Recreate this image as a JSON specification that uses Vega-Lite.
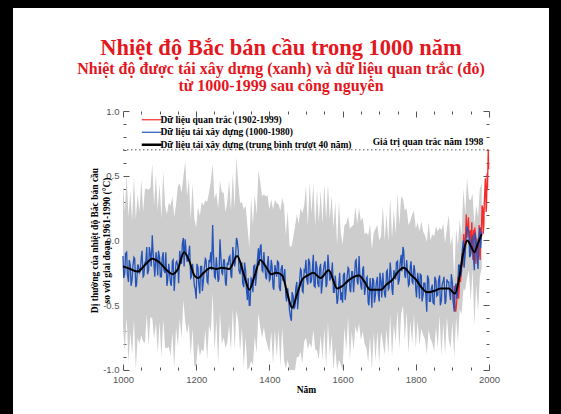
{
"$schema": "https://vega.github.io/schema/vega-lite/v6.json",
"width": 536, "height": 406,
"autosize": {"type": "none"},
"padding": {"left": 13, "right": 12, "top": 8, "bottom": 0},
"background": "black",
"title": {
  "text": "Nhiệt độ Bắc bán cầu trong 1000 năm",
  "subtitle": ["Nhiệt độ được tái xây dựng (xanh) và dữ liệu quan trắc (đỏ)", "từ 1000-1999 sau công nguyên"],
  "anchor": "middle", "frame": "group", "orient": "top",
  "offset": -86,
  "font": "Liberation Serif", "fontSize": 22.5, "fontWeight": "bold", "color": "#e4161e",
  "subtitleFont": "Liberation Serif", "subtitleFontSize": 16, "subtitleFontWeight": "bold", "subtitleColor": "#e4161e",
  "subtitlePadding": 2, "subtitleLineHeight": 17
},
"config": {"view": {"stroke": null, "fill": "white"}},
"datasets": {
"recon": [
{"year":1000,"anomaly":-0.12,"low":-0.67,"high":0.43},
{"year":1005,"anomaly":-0.25,"low":-0.85,"high":0.22},
{"year":1010,"anomaly":-0.09,"low":-0.59,"high":0.51},
{"year":1015,"anomaly":-0.32,"low":-0.94,"high":0.18},
{"year":1020,"anomaly":-0.19,"low":-0.71,"high":0.38},
{"year":1025,"anomaly":-0.30,"low":-0.88,"high":0.15},
{"year":1030,"anomaly":-0.13,"low":-0.61,"high":0.49},
{"year":1035,"anomaly":-0.36,"low":-1.00,"high":0.16},
{"year":1040,"anomaly":-0.19,"low":-0.75,"high":0.36},
{"year":1045,"anomaly":-0.25,"low":-0.80,"high":0.22},
{"year":1050,"anomaly":-0.13,"low":-0.73,"high":0.47},
{"year":1055,"anomaly":-0.28,"low":-0.78,"high":0.22},
{"year":1060,"anomaly":-0.17,"low":-0.79,"high":0.40},
{"year":1065,"anomaly":-0.05,"low":-0.57,"high":0.40},
{"year":1070,"anomaly":-0.23,"low":-0.81,"high":0.39},
{"year":1075,"anomaly":-0.11,"low":-0.59,"high":0.41},
{"year":1080,"anomaly":0.04,"low":-0.60,"high":0.59},
{"year":1085,"anomaly":-0.20,"low":-0.76,"high":0.27},
{"year":1090,"anomaly":-0.09,"low":-0.64,"high":0.51},
{"year":1095,"anomaly":-0.27,"low":-0.87,"high":0.23},
{"year":1100,"anomaly":-0.13,"low":-0.63,"high":0.44},
{"year":1105,"anomaly":-0.28,"low":-0.90,"high":0.17},
{"year":1110,"anomaly":-0.09,"low":-0.61,"high":0.53},
{"year":1115,"anomaly":-0.25,"low":-0.83,"high":0.27},
{"year":1120,"anomaly":-0.35,"low":-0.83,"high":0.20},
{"year":1125,"anomaly":-0.18,"low":-0.82,"high":0.29},
{"year":1130,"anomaly":-0.33,"low":-0.89,"high":0.27},
{"year":1135,"anomaly":-0.16,"low":-0.71,"high":0.34},
{"year":1140,"anomaly":-0.39,"low":-0.99,"high":0.18},
{"year":1145,"anomaly":-0.17,"low":-0.67,"high":0.28},
{"year":1150,"anomaly":-0.20,"low":-0.82,"high":0.42},
{"year":1155,"anomaly":-0.08,"low":-0.60,"high":0.44},
{"year":1160,"anomaly":-0.18,"low":-0.76,"high":0.37},
{"year":1165,"anomaly":0.02,"low":-0.46,"high":0.49},
{"year":1170,"anomaly":0.01,"low":-0.63,"high":0.61},
{"year":1175,"anomaly":-0.16,"low":-0.72,"high":0.34},
{"year":1180,"anomaly":-0.09,"low":-0.64,"high":0.48},
{"year":1185,"anomaly":-0.29,"low":-0.89,"high":0.16},
{"year":1190,"anomaly":-0.18,"low":-0.68,"high":0.44},
{"year":1195,"anomaly":-0.35,"low":-0.97,"high":0.17},
{"year":1200,"anomaly":-0.45,"low":-0.97,"high":0.10},
{"year":1205,"anomaly":-0.21,"low":-0.79,"high":0.26},
{"year":1210,"anomaly":-0.41,"low":-0.89,"high":0.19},
{"year":1215,"anomaly":-0.20,"low":-0.84,"high":0.30},
{"year":1220,"anomaly":-0.30,"low":-0.86,"high":0.27},
{"year":1225,"anomaly":-0.14,"low":-0.69,"high":0.31},
{"year":1230,"anomaly":-0.32,"low":-0.92,"high":0.30},
{"year":1235,"anomaly":-0.15,"low":-0.65,"high":0.37},
{"year":1240,"anomaly":-0.09,"low":-0.71,"high":0.46},
{"year":1245,"anomaly":0.12,"low":-0.40,"high":0.59},
{"year":1250,"anomaly":-0.28,"low":-0.86,"high":0.32},
{"year":1255,"anomaly":-0.13,"low":-0.61,"high":0.37},
{"year":1260,"anomaly":-0.32,"low":-0.96,"high":0.25},
{"year":1265,"anomaly":0.01,"low":-0.55,"high":0.46},
{"year":1270,"anomaly":-0.25,"low":-0.80,"high":0.37},
{"year":1275,"anomaly":-0.15,"low":-0.75,"high":0.37},
{"year":1280,"anomaly":-0.33,"low":-0.83,"high":0.22},
{"year":1285,"anomaly":-0.17,"low":-0.79,"high":0.30},
{"year":1290,"anomaly":-0.13,"low":-0.65,"high":0.47},
{"year":1295,"anomaly":-0.27,"low":-0.85,"high":0.23},
{"year":1300,"anomaly":-0.05,"low":-0.53,"high":0.52},
{"year":1305,"anomaly":-0.20,"low":-0.84,"high":0.25},
{"year":1310,"anomaly":0.02,"low":-0.54,"high":0.64},
{"year":1315,"anomaly":-0.08,"low":-0.63,"high":0.44},
{"year":1320,"anomaly":-0.26,"low":-0.86,"high":0.29},
{"year":1325,"anomaly":-0.17,"low":-0.67,"high":0.30},
{"year":1330,"anomaly":-0.36,"low":-0.98,"high":0.24},
{"year":1335,"anomaly":-0.23,"low":-0.75,"high":0.27},
{"year":1340,"anomaly":-0.46,"low":-1.00,"high":0.11},
{"year":1345,"anomaly":-0.50,"low":-0.98,"high":-0.05},
{"year":1350,"anomaly":-0.29,"low":-0.93,"high":0.33},
{"year":1355,"anomaly":-0.40,"low":-0.96,"high":0.12},
{"year":1360,"anomaly":-0.19,"low":-0.74,"high":0.36},
{"year":1365,"anomaly":-0.27,"low":-0.87,"high":0.20},
{"year":1370,"anomaly":-0.06,"low":-0.56,"high":0.54},
{"year":1375,"anomaly":-0.05,"low":-0.67,"high":0.45},
{"year":1380,"anomaly":-0.23,"low":-0.75,"high":0.34},
{"year":1385,"anomaly":-0.09,"low":-0.67,"high":0.36},
{"year":1390,"anomaly":-0.28,"low":-0.76,"high":0.34},
{"year":1395,"anomaly":-0.17,"low":-0.81,"high":0.35},
{"year":1400,"anomaly":-0.31,"low":-0.87,"high":0.24},
{"year":1405,"anomaly":-0.15,"low":-0.70,"high":0.32},
{"year":1410,"anomaly":-0.36,"low":-0.96,"high":0.24},
{"year":1415,"anomaly":-0.19,"low":-0.69,"high":0.31},
{"year":1420,"anomaly":-0.28,"low":-0.90,"high":0.29},
{"year":1425,"anomaly":-0.17,"low":-0.69,"high":0.28},
{"year":1430,"anomaly":-0.39,"low":-0.97,"high":0.23},
{"year":1435,"anomaly":-0.19,"low":-0.67,"high":0.33},
{"year":1440,"anomaly":-0.28,"low":-0.92,"high":0.27},
{"year":1445,"anomaly":-0.43,"low":-0.99,"high":0.04},
{"year":1450,"anomaly":-0.37,"low":-0.92,"high":0.23},
{"year":1455,"anomaly":-0.54,"low":-1.00,"high":-0.04},
{"year":1460,"anomaly":-0.62,"low":-1.00,"high":-0.05},
{"year":1465,"anomaly":-0.43,"low":-1.00,"high":0.02},
{"year":1470,"anomaly":-0.51,"low":-1.00,"high":0.11},
{"year":1475,"anomaly":-0.32,"low":-0.90,"high":0.20},
{"year":1480,"anomaly":-0.42,"low":-0.90,"high":0.13},
{"year":1485,"anomaly":-0.22,"low":-0.86,"high":0.25},
{"year":1490,"anomaly":-0.39,"low":-0.95,"high":0.21},
{"year":1495,"anomaly":-0.23,"low":-0.78,"high":0.27},
{"year":1500,"anomaly":-0.15,"low":-0.75,"high":0.42},
{"year":1505,"anomaly":-0.34,"low":-0.84,"high":0.11},
{"year":1510,"anomaly":-0.17,"low":-0.79,"high":0.45},
{"year":1515,"anomaly":-0.31,"low":-0.83,"high":0.21},
{"year":1520,"anomaly":-0.11,"low":-0.69,"high":0.44},
{"year":1525,"anomaly":-0.36,"low":-0.84,"high":0.11},
{"year":1530,"anomaly":-0.21,"low":-0.85,"high":0.39},
{"year":1535,"anomaly":-0.36,"low":-0.92,"high":0.14},
{"year":1540,"anomaly":-0.18,"low":-0.73,"high":0.39},
{"year":1545,"anomaly":-0.32,"low":-0.92,"high":0.13},
{"year":1550,"anomaly":-0.18,"low":-0.68,"high":0.44},
{"year":1555,"anomaly":-0.36,"low":-0.98,"high":0.16},
{"year":1560,"anomaly":-0.11,"low":-0.63,"high":0.44},
{"year":1565,"anomaly":-0.31,"low":-0.89,"high":0.16},
{"year":1570,"anomaly":-0.25,"low":-0.73,"high":0.35},
{"year":1575,"anomaly":-0.40,"low":-1.00,"high":0.10},
{"year":1580,"anomaly":-0.27,"low":-0.83,"high":0.30},
{"year":1585,"anomaly":-0.49,"low":-1.00,"high":-0.04},
{"year":1590,"anomaly":-0.32,"low":-0.92,"high":0.30},
{"year":1595,"anomaly":-0.46,"low":-0.96,"high":0.06},
{"year":1600,"anomaly":-0.48,"low":-1.00,"high":-0.03},
{"year":1605,"anomaly":-0.25,"low":-0.67,"high":0.12},
{"year":1610,"anomaly":-0.37,"low":-0.85,"high":0.13},
{"year":1615,"anomaly":-0.21,"low":-0.59,"high":0.19},
{"year":1620,"anomaly":-0.38,"low":-0.92,"high":0.09},
{"year":1625,"anomaly":-0.24,"low":-0.70,"high":0.11},
{"year":1630,"anomaly":-0.40,"low":-0.85,"high":0.12},
{"year":1635,"anomaly":-0.16,"low":-0.66,"high":0.26},
{"year":1640,"anomaly":-0.32,"low":-0.72,"high":0.13},
{"year":1645,"anomaly":-0.12,"low":-0.64,"high":0.25},
{"year":1650,"anomaly":-0.35,"low":-0.77,"high":0.15},
{"year":1655,"anomaly":-0.22,"low":-0.70,"high":0.18},
{"year":1660,"anomaly":-0.42,"low":-0.80,"high":0.05},
{"year":1665,"anomaly":-0.29,"low":-0.83,"high":0.06},
{"year":1670,"anomaly":-0.48,"low":-0.94,"high":0.04},
{"year":1675,"anomaly":-0.29,"low":-0.74,"high":0.13},
{"year":1680,"anomaly":-0.52,"low":-1.00,"high":-0.07},
{"year":1685,"anomaly":-0.31,"low":-0.71,"high":0.06},
{"year":1690,"anomaly":-0.41,"low":-0.93,"high":0.09},
{"year":1695,"anomaly":-0.28,"low":-0.70,"high":0.12},
{"year":1700,"anomaly":-0.47,"low":-0.95,"high":0.00},
{"year":1705,"anomaly":-0.32,"low":-0.70,"high":0.03},
{"year":1710,"anomaly":-0.25,"low":-0.79,"high":0.27},
{"year":1715,"anomaly":-0.42,"low":-0.88,"high":0.00},
{"year":1720,"anomaly":-0.24,"low":-0.69,"high":0.21},
{"year":1725,"anomaly":-0.38,"low":-0.88,"high":-0.01},
{"year":1730,"anomaly":-0.17,"low":-0.57,"high":0.33},
{"year":1735,"anomaly":-0.38,"low":-0.90,"high":0.02},
{"year":1740,"anomaly":-0.23,"low":-0.65,"high":0.24},
{"year":1745,"anomaly":-0.30,"low":-0.78,"high":0.05},
{"year":1750,"anomaly":-0.16,"low":-0.54,"high":0.36},
{"year":1755,"anomaly":-0.30,"low":-0.84,"high":0.12},
{"year":1760,"anomaly":-0.11,"low":-0.57,"high":0.34},
{"year":1765,"anomaly":-0.05,"low":-0.50,"high":0.32},
{"year":1770,"anomaly":-0.27,"low":-0.77,"high":0.23},
{"year":1775,"anomaly":-0.15,"low":-0.55,"high":0.25},
{"year":1780,"anomaly":-0.35,"low":-0.87,"high":0.12},
{"year":1785,"anomaly":-0.20,"low":-0.62,"high":0.15},
{"year":1790,"anomaly":-0.32,"low":-0.80,"high":0.20},
{"year":1795,"anomaly":-0.19,"low":-0.57,"high":0.23},
{"year":1800,"anomaly":-0.38,"low":-0.83,"high":0.09},
{"year":1805,"anomaly":-0.25,"low":-0.62,"high":0.14},
{"year":1810,"anomaly":-0.45,"low":-0.81,"high":0.07},
{"year":1815,"anomaly":-0.27,"low":-0.68,"high":0.15},
{"year":1820,"anomaly":-0.42,"low":-0.73,"high":0.07},
{"year":1825,"anomaly":-0.33,"low":-0.76,"high":0.04},
{"year":1830,"anomaly":-0.55,"low":-0.88,"high":-0.01},
{"year":1835,"anomaly":-0.30,"low":-0.69,"high":0.14},
{"year":1840,"anomaly":-0.47,"low":-0.76,"high":0.00},
{"year":1845,"anomaly":-0.34,"low":-0.79,"high":0.05},
{"year":1850,"anomaly":-0.49,"low":-0.86,"high":0.03},
{"year":1855,"anomaly":-0.31,"low":-0.67,"high":0.11},
{"year":1860,"anomaly":-0.42,"low":-0.83,"high":0.07},
{"year":1865,"anomaly":-0.27,"low":-0.58,"high":0.10},
{"year":1870,"anomaly":-0.46,"low":-0.89,"high":0.08},
{"year":1875,"anomaly":-0.31,"low":-0.64,"high":0.13},
{"year":1880,"anomaly":-0.49,"low":-0.88,"high":-0.02},
{"year":1885,"anomaly":-0.30,"low":-0.59,"high":0.09},
{"year":1890,"anomaly":-0.32,"low":-0.77,"high":0.20},
{"year":1895,"anomaly":-0.46,"low":-0.83,"high":-0.04},
{"year":1900,"anomaly":-0.33,"low":-0.63,"high":0.04},
{"year":1905,"anomaly":-0.55,"low":-0.91,"high":-0.30},
{"year":1910,"anomaly":-0.33,"low":-0.59,"high":0.09},
{"year":1915,"anomaly":-0.36,"low":-0.78,"high":-0.04},
{"year":1920,"anomaly":-0.19,"low":-0.53,"high":0.16},
{"year":1925,"anomaly":-0.24,"low":-0.57,"high":0.03},
{"year":1930,"anomaly":0.00,"low":-0.38,"high":0.40},
{"year":1935,"anomaly":-0.10,"low":-0.38,"high":0.20},
{"year":1940,"anomaly":0.11,"low":-0.29,"high":0.48},
{"year":1945,"anomaly":0.07,"low":-0.23,"high":0.32},
{"year":1950,"anomaly":-0.11,"low":-0.47,"high":0.31},
{"year":1955,"anomaly":0.04,"low":-0.22,"high":0.36},
{"year":1960,"anomaly":-0.23,"low":-0.65,"high":0.12},
{"year":1965,"anomaly":0.00,"low":-0.34,"high":0.27},
{"year":1970,"anomaly":-0.22,"low":-0.55,"high":0.18},
{"year":1975,"anomaly":0.10,"low":-0.28,"high":0.40},
{"year":1980,"anomaly":0.07,"low":-0.21,"high":0.44},
{"year":1002,"anomaly":-0.29},{"year":1007,"anomaly":-0.10},{"year":1012,"anomaly":-0.26},{"year":1017,"anomaly":-0.15},
{"year":1022,"anomaly":-0.35},{"year":1027,"anomaly":-0.20},{"year":1032,"anomaly":-0.14},{"year":1037,"anomaly":-0.34},
{"year":1042,"anomaly":-0.19},{"year":1047,"anomaly":-0.24},{"year":1052,"anomaly":-0.08},{"year":1057,"anomaly":-0.27},
{"year":1062,"anomaly":-0.17},{"year":1067,"anomaly":-0.26},{"year":1072,"anomaly":-0.05},{"year":1077,"anomaly":-0.20},
{"year":1082,"anomaly":-0.08},{"year":1087,"anomaly":-0.28},{"year":1092,"anomaly":-0.13},{"year":1097,"anomaly":-0.08},
{"year":1102,"anomaly":-0.28},{"year":1107,"anomaly":-0.14},{"year":1112,"anomaly":-0.23},{"year":1117,"anomaly":-0.09},
{"year":1122,"anomaly":-0.31},{"year":1127,"anomaly":-0.24},{"year":1132,"anomaly":-0.35},{"year":1137,"anomaly":-0.15},
{"year":1142,"anomaly":-0.29},{"year":1147,"anomaly":-0.16},{"year":1152,"anomaly":-0.33},{"year":1157,"anomaly":-0.13},
{"year":1162,"anomaly":-0.03},{"year":1167,"anomaly":-0.20},{"year":1172,"anomaly":-0.07},{"year":1177,"anomaly":-0.16},
{"year":1182,"anomaly":-0.04},{"year":1187,"anomaly":-0.28},{"year":1192,"anomaly":-0.24},{"year":1197,"anomaly":-0.37},
{"year":1202,"anomaly":-0.18},{"year":1207,"anomaly":-0.34},{"year":1212,"anomaly":-0.20},{"year":1217,"anomaly":-0.39},
{"year":1222,"anomaly":-0.22},{"year":1227,"anomaly":-0.15},{"year":1232,"anomaly":-0.33},{"year":1237,"anomaly":-0.17},
{"year":1242,"anomaly":-0.23},{"year":1247,"anomaly":-0.09},{"year":1252,"anomaly":-0.29},{"year":1257,"anomaly":-0.21},
{"year":1262,"anomaly":-0.30},{"year":1267,"anomaly":-0.10},{"year":1272,"anomaly":-0.26},{"year":1277,"anomaly":-0.15},
{"year":1282,"anomaly":-0.35},{"year":1287,"anomaly":-0.19},{"year":1292,"anomaly":-0.12},{"year":1297,"anomaly":-0.29},
{"year":1302,"anomaly":-0.11},{"year":1307,"anomaly":-0.16},{"year":1312,"anomaly":0.00},{"year":1317,"anomaly":-0.23},
{"year":1322,"anomaly":-0.19},{"year":1327,"anomaly":-0.33},{"year":1332,"anomaly":-0.17},{"year":1337,"anomaly":-0.37},
{"year":1342,"anomaly":-0.29},{"year":1347,"anomaly":-0.50},{"year":1352,"anomaly":-0.30},{"year":1357,"anomaly":-0.20},
{"year":1362,"anomaly":-0.35},{"year":1367,"anomaly":-0.16},{"year":1372,"anomaly":-0.19},{"year":1377,"anomaly":-0.03},
{"year":1382,"anomaly":-0.24},{"year":1387,"anomaly":-0.18},{"year":1392,"anomaly":-0.30},{"year":1397,"anomaly":-0.12},
{"year":1402,"anomaly":-0.30},{"year":1407,"anomaly":-0.19},{"year":1412,"anomaly":-0.38},{"year":1417,"anomaly":-0.22},
{"year":1422,"anomaly":-0.16},{"year":1427,"anomaly":-0.36},{"year":1432,"anomaly":-0.22},{"year":1437,"anomaly":-0.31},
{"year":1442,"anomaly":-0.22},{"year":1447,"anomaly":-0.47},{"year":1452,"anomaly":-0.43},{"year":1457,"anomaly":-0.58},
{"year":1462,"anomaly":-0.40},{"year":1467,"anomaly":-0.53},{"year":1472,"anomaly":-0.37},{"year":1477,"anomaly":-0.53},
{"year":1482,"anomaly":-0.33},{"year":1487,"anomaly":-0.23},{"year":1492,"anomaly":-0.40},{"year":1497,"anomaly":-0.24},
{"year":1502,"anomaly":-0.30},{"year":1507,"anomaly":-0.14},{"year":1512,"anomaly":-0.33},{"year":1517,"anomaly":-0.24},
{"year":1522,"anomaly":-0.35},{"year":1527,"anomaly":-0.16},{"year":1532,"anomaly":-0.33},{"year":1537,"anomaly":-0.22},
{"year":1542,"anomaly":-0.41},{"year":1547,"anomaly":-0.24},{"year":1552,"anomaly":-0.16},{"year":1557,"anomaly":-0.34},
{"year":1562,"anomaly":-0.19},{"year":1567,"anomaly":-0.29},{"year":1572,"anomaly":-0.17},{"year":1577,"anomaly":-0.40},
{"year":1582,"anomaly":-0.35},{"year":1587,"anomaly":-0.46},{"year":1592,"anomaly":-0.25},{"year":1597,"anomaly":-0.40},
{"year":1602,"anomaly":-0.27},{"year":1607,"anomaly":-0.46},{"year":1612,"anomaly":-0.29},{"year":1617,"anomaly":-0.22},
{"year":1622,"anomaly":-0.40},{"year":1627,"anomaly":-0.24},{"year":1632,"anomaly":-0.31},{"year":1637,"anomaly":-0.15},
{"year":1642,"anomaly":-0.34},{"year":1647,"anomaly":-0.27},{"year":1652,"anomaly":-0.38},{"year":1657,"anomaly":-0.20},
{"year":1662,"anomaly":-0.38},{"year":1667,"anomaly":-0.28},{"year":1672,"anomaly":-0.50},{"year":1677,"anomaly":-0.35},
{"year":1682,"anomaly":-0.29},{"year":1687,"anomaly":-0.48},{"year":1692,"anomaly":-0.33},{"year":1697,"anomaly":-0.40},
{"year":1702,"anomaly":-0.25},{"year":1707,"anomaly":-0.44},{"year":1712,"anomaly":-0.35},{"year":1717,"anomaly":-0.44},
{"year":1722,"anomaly":-0.23},{"year":1727,"anomaly":-0.37},{"year":1732,"anomaly":-0.24},{"year":1737,"anomaly":-0.42},
{"year":1742,"anomaly":-0.25},{"year":1747,"anomaly":-0.17},{"year":1752,"anomaly":-0.34},{"year":1757,"anomaly":-0.18},
{"year":1762,"anomaly":-0.24},{"year":1767,"anomaly":-0.08},{"year":1772,"anomaly":-0.29},{"year":1777,"anomaly":-0.23},
{"year":1782,"anomaly":-0.34},{"year":1787,"anomaly":-0.16},{"year":1792,"anomaly":-0.33},{"year":1797,"anomaly":-0.23},
{"year":1802,"anomaly":-0.44},{"year":1807,"anomaly":-0.30},{"year":1812,"anomaly":-0.26},{"year":1817,"anomaly":-0.47},
{"year":1822,"anomaly":-0.33},{"year":1827,"anomaly":-0.41},{"year":1832,"anomaly":-0.27},{"year":1837,"anomaly":-0.47},
{"year":1842,"anomaly":-0.38},{"year":1847,"anomaly":-0.48},{"year":1852,"anomaly":-0.28},{"year":1857,"anomaly":-0.43},
{"year":1862,"anomaly":-0.31},{"year":1867,"anomaly":-0.50},{"year":1872,"anomaly":-0.34},{"year":1877,"anomaly":-0.28},
{"year":1882,"anomaly":-0.47},{"year":1887,"anomaly":-0.32},{"year":1892,"anomaly":-0.40},{"year":1897,"anomaly":-0.26},
{"year":1902,"anomaly":-0.47},{"year":1907,"anomaly":-0.38},{"year":1912,"anomaly":-0.45},{"year":1917,"anomaly":-0.19},
{"year":1922,"anomaly":-0.28},{"year":1927,"anomaly":-0.07},{"year":1932,"anomaly":-0.21},{"year":1937,"anomaly":0.00},
{"year":1942,"anomaly":0.08},{"year":1947,"anomaly":-0.13},{"year":1952,"anomaly":0.00},{"year":1957,"anomaly":-0.10},
{"year":1962,"anomaly":0.06},{"year":1967,"anomaly":-0.11},{"year":1972,"anomaly":0.01},{"year":1977,"anomaly":-0.06}
],
"smooth": [
{"year":1000,"anomaly":-0.20},{"year":1020,"anomaly":-0.22},{"year":1040,"anomaly":-0.24},{"year":1060,"anomaly":-0.19},
{"year":1080,"anomaly":-0.14},{"year":1100,"anomaly":-0.17},{"year":1120,"anomaly":-0.23},{"year":1135,"anomaly":-0.26},
{"year":1150,"anomaly":-0.22},{"year":1167,"anomaly":-0.09},{"year":1180,"anomaly":-0.15},{"year":1195,"anomaly":-0.27},
{"year":1205,"anomaly":-0.29},{"year":1220,"anomaly":-0.25},{"year":1240,"anomaly":-0.21},{"year":1255,"anomaly":-0.22},
{"year":1270,"anomaly":-0.21},{"year":1290,"anomaly":-0.22},{"year":1312,"anomaly":-0.12},{"year":1330,"anomaly":-0.26},
{"year":1345,"anomaly":-0.38},{"year":1360,"anomaly":-0.27},{"year":1375,"anomaly":-0.15},{"year":1390,"anomaly":-0.20},
{"year":1405,"anomaly":-0.26},{"year":1420,"anomaly":-0.25},{"year":1435,"anomaly":-0.27},{"year":1450,"anomaly":-0.42},
{"year":1462,"anomaly":-0.52},{"year":1475,"anomaly":-0.42},{"year":1490,"anomaly":-0.30},{"year":1505,"anomaly":-0.27},
{"year":1520,"anomaly":-0.25},{"year":1540,"anomaly":-0.29},{"year":1562,"anomaly":-0.23},{"year":1585,"anomaly":-0.37},
{"year":1600,"anomaly":-0.35},{"year":1615,"anomaly":-0.31},{"year":1645,"anomaly":-0.27},{"year":1660,"anomaly":-0.32},
{"year":1675,"anomaly":-0.38},{"year":1705,"anomaly":-0.38},{"year":1720,"anomaly":-0.34},{"year":1737,"anomaly":-0.30},
{"year":1752,"anomaly":-0.24},{"year":1767,"anomaly":-0.21},{"year":1785,"anomaly":-0.26},{"year":1800,"anomaly":-0.30},
{"year":1815,"anomaly":-0.36},{"year":1832,"anomaly":-0.40},{"year":1850,"anomaly":-0.39},{"year":1868,"anomaly":-0.37},
{"year":1890,"anomaly":-0.37},{"year":1907,"anomaly":-0.41},{"year":1918,"anomaly":-0.30},{"year":1928,"anomaly":-0.12},
{"year":1941,"anomaly":0.00},{"year":1950,"anomaly":-0.04},{"year":1960,"anomaly":-0.09},{"year":1970,"anomaly":-0.02},
{"year":1980,"anomaly":0.05}
],
"obs": [
{"year":1902,"anomaly":-0.40},{"year":1903,"anomaly":-0.48},{"year":1905,"anomaly":-0.35},{"year":1907,"anomaly":-0.50},
{"year":1909,"anomaly":-0.55},{"year":1911,"anomaly":-0.50},{"year":1913,"anomaly":-0.42},{"year":1915,"anomaly":-0.28},
{"year":1917,"anomaly":-0.45},{"year":1918,"anomaly":-0.40},{"year":1920,"anomaly":-0.28},{"year":1922,"anomaly":-0.32},
{"year":1924,"anomaly":-0.25},{"year":1926,"anomaly":-0.10},{"year":1928,"anomaly":-0.20},{"year":1930,"anomaly":-0.02},
{"year":1931,"anomaly":0.05},{"year":1933,"anomaly":-0.12},{"year":1935,"anomaly":0.00},{"year":1937,"anomaly":0.12},
{"year":1938,"anomaly":0.20},{"year":1940,"anomaly":0.02},{"year":1942,"anomaly":0.10},{"year":1944,"anomaly":0.18},
{"year":1945,"anomaly":0.05},{"year":1947,"anomaly":0.00},{"year":1949,"anomaly":0.08},{"year":1950,"anomaly":-0.10},
{"year":1952,"anomaly":0.05},{"year":1953,"anomaly":0.14},{"year":1955,"anomaly":-0.08},{"year":1956,"anomaly":-0.15},
{"year":1958,"anomaly":0.08},{"year":1960,"anomaly":0.00},{"year":1961,"anomaly":0.10},{"year":1963,"anomaly":0.05},
{"year":1964,"anomaly":-0.18},{"year":1966,"anomaly":-0.03},{"year":1968,"anomaly":-0.10},{"year":1970,"anomaly":0.02},
{"year":1971,"anomaly":-0.12},{"year":1973,"anomaly":0.12},{"year":1974,"anomaly":-0.10},{"year":1976,"anomaly":-0.15},
{"year":1977,"anomaly":0.10},{"year":1979,"anomaly":0.05},{"year":1980,"anomaly":0.15},{"year":1981,"anomaly":0.27},
{"year":1983,"anomaly":0.25},{"year":1984,"anomaly":0.05},{"year":1986,"anomaly":0.12},{"year":1987,"anomaly":0.28},
{"year":1988,"anomaly":0.35},{"year":1990,"anomaly":0.48},{"year":1991,"anomaly":0.40},{"year":1992,"anomaly":0.22},
{"year":1993,"anomaly":0.25},{"year":1994,"anomaly":0.38},{"year":1995,"anomaly":0.52},{"year":1996,"anomaly":0.40},
{"year":1997,"anomaly":0.58},{"year":1998,"anomaly":0.70},{"year":1999,"anomaly":0.55}
],
"note": [{"label": "Giá trị quan trắc năm 1998", "year": 1998, "anomaly": 0.70}]
},
"layer": [
{
  "mark": {"type": "rect", "color": "#fcf6fa"},
  "encoding": {
    "x": {"datum": 828, "type": "quantitative", "scale": {"domain": [699.5, 2163.9], "nice": false, "zero": false}, "axis": null},
    "x2": {"datum": 2030},
    "y": {"datum": 1.10, "type": "quantitative", "scale": {"domain": [-1.3398, 1.7954], "nice": false, "zero": false}, "axis": null},
    "y2": {"datum": -1.27}
  }
},
{
  "data": {"name": "recon"},
  "transform": [{"filter": "isValid(datum.low)"}],
  "mark": {"type": "area", "color": "#cdcdcd", "interpolate": "linear"},
  "encoding": {
    "x": {"field": "year", "type": "quantitative", "scale": {"domain": [699.5, 2163.9], "nice": false, "zero": false},
      "axis": {"orient": "bottom", "offset": -44, "values": [1000,1050,1100,1150,1200,1250,1300,1350,1400,1450,1500,1550,1600,1650,1700,1750,1800,1850,1900,1950,2000],
        "domain": false, "grid": false, "format": "d",
        "tickSize": {"condition": {"test": "datum.value % 200 === 0", "value": -6}, "value": -3},
        "tickColor": "#555", "tickWidth": 1,
        "labelExpr": "datum.value % 200 === 0 ? datum.label : ''",
        "labelFont": "Liberation Sans", "labelFontSize": 9.5, "labelColor": "#555", "labelPadding": 10,
        "labelFlush": false, "labelOverlap": false,
        "title": "Năm", "titleFont": "Liberation Serif", "titleFontWeight": "bold", "titleFontSize": 9.5, "titleColor": "#000",
        "titleX": 293, "titleY": 19, "titleBaseline": "middle", "titleAlign": "center"}},
    "y": {"field": "low", "type": "quantitative", "scale": {"domain": [-1.3398, 1.7954], "nice": false, "zero": false},
      "axis": {"orient": "left", "offset": -110, "values": [-1,-0.9,-0.8,-0.7,-0.6,-0.5,-0.4,-0.3,-0.2,-0.1,0,0.1,0.2,0.3,0.4,0.5,0.6,0.7,0.8,0.9,1],
        "domain": false, "grid": false,
        "tickSize": {"condition": {"test": "abs(datum.value*2 - round(datum.value*2)) < 0.001", "value": -6}, "value": -3},
        "tickColor": "#555", "tickWidth": 1,
        "labelExpr": "abs(datum.value*2 - round(datum.value*2)) < 0.001 ? replace(format(datum.value, '.1f'), '−', '-') : ''",
        "labelFont": "Liberation Sans", "labelFontSize": 9.5, "labelColor": "#555", "labelPadding": 10, "labelOverlap": false, "labelFlush": false,
        "title": ["Dị thường của nhiệt độ Bắc bán cầu", "so với giai đoạn 1961-1990 (°C)"],
        "titleFont": "Liberation Serif", "titleFontWeight": "bold", "titleFontSize": 9.5, "titleColor": "#000",
        "titleX": -29, "titleY": 232, "titleBaseline": "middle", "titleAlign": "center", "titleAngle": 270, "titleLineHeight": 12}},
    "y2": {"field": "high"}
  }
},
{
  "mark": {"type": "rule", "color": "#555", "strokeWidth": 1.2},
  "encoding": {"x": {"datum": 1000, "axis": null}, "x2": {"datum": 2000}, "y": {"datum": 0, "axis": null}}
},
{
  "data": {"name": "note"},
  "mark": {"type": "rule", "color": "#555", "strokeWidth": 1, "strokeDash": [1.5, 2.5]},
  "encoding": {"x": {"datum": 1000, "axis": null}, "x2": {"datum": 2000}, "y": {"field": "anomaly", "type": "quantitative", "axis": null}}
},
{
  "data": {"name": "obs"},
  "mark": {"type": "line", "strokeWidth": 1.3},
  "encoding": {
    "x": {"field": "year", "type": "quantitative", "axis": null},
    "y": {"field": "anomaly", "type": "quantitative", "axis": null},
    "color": {"datum": "Dữ liệu quan trắc (1902-1999)",
      "scale": {"domain": ["Dữ liệu quan trắc (1902-1999)", "Dữ liệu tái xây dựng (1000-1980)", "Dữ liệu tái xây dựng (trung bình trượt 40 năm)"], "range": ["#f52a2a", "#2352b8", "#000000"]},
      "legend": {"orient": "none", "legendX": 134, "legendY": 107, "title": null, "symbolType": "stroke", "symbolSize": 400,
        "symbolStrokeWidth": 1.2, "labelFont": "Liberation Serif", "labelFontWeight": "bold", "labelFontSize": 9.5, "labelColor": "#000",
        "rowPadding": 1.5, "padding": 0, "labelOffset": 4, "labelLimit": 400,
        "encode": {"symbols": {"update": {"strokeWidth": {"signal": "datum.value === 'Dữ liệu tái xây dựng (trung bình trượt 40 năm)' ? 2.5 : 1.2"}}}}}}
  }
},
{
  "data": {"name": "recon"},
  "mark": {"type": "line", "strokeWidth": 1.3},
  "encoding": {
    "x": {"field": "year", "type": "quantitative",
      "axis": {"orient": "top", "offset": -103, "values": [1000,1050,1100,1150,1200,1250,1300,1350,1400,1450,1500,1550,1600,1650,1700,1750,1800,1850,1900,1950,2000],
        "domain": false, "grid": false, "labels": false, "title": null,
        "tickSize": {"condition": {"test": "datum.value % 200 === 0", "value": -6}, "value": -3},
        "tickColor": "#555", "tickWidth": 1}},
    "y": {"field": "anomaly", "type": "quantitative",
      "axis": {"orient": "right", "offset": -60, "values": [-1,-0.9,-0.8,-0.7,-0.6,-0.5,-0.4,-0.3,-0.2,-0.1,0,0.1,0.2,0.3,0.4,0.5,0.6,0.7,0.8,0.9,1],
        "domain": false, "grid": false, "labels": false, "title": null,
        "tickSize": {"condition": {"test": "abs(datum.value*2 - round(datum.value*2)) < 0.001", "value": -6}, "value": -3},
        "tickColor": "#555", "tickWidth": 1}},
    "color": {"datum": "Dữ liệu tái xây dựng (1000-1980)"}
  }
},
{
  "data": {"name": "smooth"},
  "mark": {"type": "line", "strokeWidth": 2, "interpolate": "monotone"},
  "encoding": {
    "x": {"field": "year", "type": "quantitative", "axis": null},
    "y": {"field": "anomaly", "type": "quantitative", "axis": null},
    "color": {"datum": "Dữ liệu tái xây dựng (trung bình trượt 40 năm)"}
  }
},
{
  "mark": {"type": "rect", "fill": "white", "fillOpacity": 0, "stroke": "#555", "strokeWidth": 1.2},
  "encoding": {"x": {"datum": 1000, "axis": null}, "x2": {"datum": 2000}, "y": {"datum": -1, "axis": null}, "y2": {"datum": 1}}
},
{
  "data": {"name": "note"},
  "mark": {"type": "text", "align": "right", "baseline": "alphabetic", "dx": -5, "dy": -5, "font": "Liberation Serif", "fontWeight": "bold", "fontSize": 9.5, "color": "#000"},
  "encoding": {
    "x": {"field": "year", "type": "quantitative", "axis": null},
    "y": {"field": "anomaly", "type": "quantitative", "axis": null},
    "text": {"field": "label"}
  }
}
],
"resolve": {"axis": {"x": "independent", "y": "independent"}}
}
